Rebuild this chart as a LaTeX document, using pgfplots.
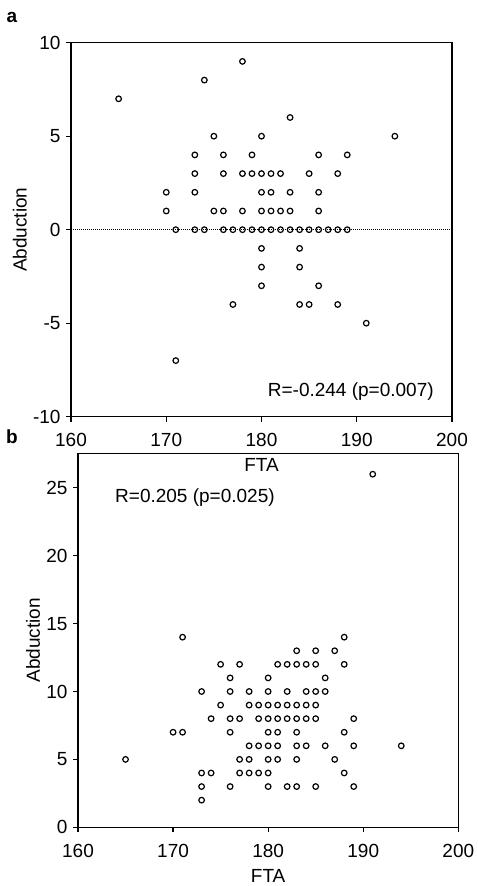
\documentclass[border=0pt]{standalone}
\usepackage{pgfplots}
\pgfplotsset{compat=1.18}
\usepackage{pgfplotstable}
\usepackage{fontspec}
\setmainfont{Liberation Sans}

\pgfplotstableread{
x y
165 7
194 5
178 9
174 8
183 6
175 5
180 5
173 4
176 4
179 4
186 4
189 4
173 3
176 3
178 3
179 3
180 3
181 3
182 3
185 3
188 3
170 2
173 2
180 2
181 2
183 2
186 2
170 1
175 1
176 1
178 1
180 1
181 1
182 1
183 1
186 1
171 0
173 0
174 0
176 0
177 0
178 0
179 0
180 0
181 0
182 0
183 0
184 0
185 0
186 0
187 0
188 0
189 0
180 -1
184 -1
180 -2
184 -2
180 -3
186 -3
177 -4
184 -4
185 -4
188 -4
191 -5
171 -7
}\dataA

\pgfplotstableread{
x y
191 26
171 14
188 14
183 13
185 13
187 13
175 12
177 12
181 12
182 12
183 12
184 12
185 12
188 12
176 11
180 11
186 11
173 10
176 10
178 10
180 10
182 10
184 10
185 10
186 10
175 9
178 9
179 9
180 9
181 9
182 9
183 9
184 9
185 9
174 8
176 8
177 8
179 8
180 8
181 8
182 8
183 8
184 8
185 8
189 8
170 7
171 7
176 7
180 7
181 7
183 7
188 7
178 6
179 6
180 6
181 6
183 6
184 6
186 6
189 6
194 6
165 5
177 5
178 5
180 5
181 5
183 5
187 5
173 4
174 4
177 4
178 4
179 4
180 4
188 4
173 3
176 3
180 3
182 3
183 3
185 3
189 3
173 2
}\dataB

\pgfplotsset{
  myaxis/.style={
    scale only axis,
    anchor=south west,
    xmin=160, xmax=200,
    xtick={160,170,180,190,200},
    tick align=outside,
    xtick pos=lower, ytick pos=left,
    major tick length=5pt,
    axis line style={line width=1.2pt},
    every tick/.style={line width=1.2pt, black},
    /pgf/number format/assume math mode=true,
    tick label style={font=\fontsize{19}{22}\selectfont},
    xticklabel shift=8pt,
    yticklabel shift=2pt,
    label style={font=\fontsize{19}{22}\selectfont},
    xlabel={FTA}, ylabel={Abduction},
  },
  mymarks/.style={only marks, mark=o, mark size=2.8pt, black,
    mark options={line width=1.2pt}},
}

\begin{document}
\begin{tikzpicture}
\path[use as bounding box] (0,0) rectangle (478pt,886pt);
\node[anchor=center, font=\fontsize{19}{22}\selectfont\bfseries] at (12pt,869pt) {a};
\node[anchor=center, font=\fontsize{19}{22}\selectfont\bfseries] at (12pt,449pt) {b};

\begin{axis}[myaxis,
  at={(71pt,469.3pt)},
  width=381pt, height=374pt,
  ymin=-10, ymax=10,
  ytick={-10,-5,0,5,10},
  xlabel style={at={(axis description cs:0.5,-0.128)}, anchor=center},
  ylabel style={at={(axis description cs:-0.134,0.5)}, anchor=center},
]
\addplot[black, line width=1pt, dash pattern=on 1pt off 1pt] coordinates {(160,0) (200,0)};
\addplot[mymarks] table[x=x,y=y] {\dataA};
\node[anchor=east, font=\fontsize{19}{22}\selectfont] at (axis cs:198.45,-8.66) {R=-0.244 (p=0.007)};
\end{axis}

\begin{axis}[myaxis,
  at={(78pt,58.7pt)},
  width=380.3pt, height=374pt,
  ymin=0, ymax=27.54,
  ytick={0,5,10,15,20,25},
  xlabel style={at={(axis description cs:0.5,-0.131)}, anchor=center},
  ylabel style={at={(axis description cs:-0.118,0.5)}, anchor=center},
]
\addplot[mymarks] table[x=x,y=y] {\dataB};
\node[anchor=west, font=\fontsize{19}{22}\selectfont] at (axis cs:163.54,24.27) {R=0.205 (p=0.025)};
\end{axis}
\end{tikzpicture}
\end{document}
